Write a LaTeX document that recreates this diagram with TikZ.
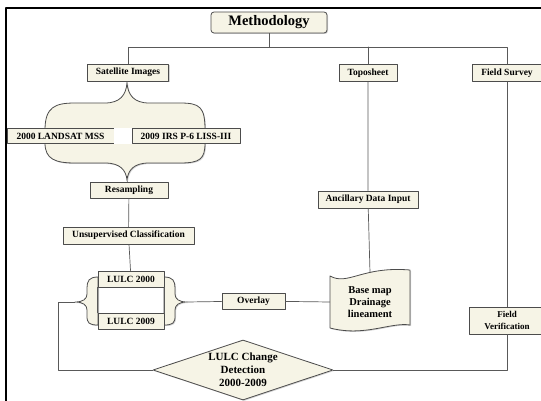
\documentclass[tikz,border=0pt]{standalone}
\usepackage{fontspec}
\setmainfont{Liberation Serif}
\usetikzlibrary{shapes.geometric,shadows}
\definecolor{cream}{RGB}{246,244,230}
\begin{document}
\begin{tikzpicture}[x=1pt,y=-1pt,line cap=round,line join=round,
    box/.style={draw=black!70,fill=cream,line width=0.8pt,inner sep=0pt,align=center,
      font=\bfseries\fontsize{9.5}{11}\selectfont,
      drop shadow={opacity=0.35,shadow xshift=1pt,shadow yshift=-1pt}},
    shade/.style={draw=black!70,fill=cream,line width=0.8pt,
      drop shadow={opacity=0.35,shadow xshift=1pt,shadow yshift=-1pt}},
    link/.style={draw=black!65,line width=0.7pt}]
\useasboundingbox (0,0) rectangle (541,401);
\draw[line width=1.3pt] (6,401) -- (6,8) -- (541,8);
% big brace round the two sensors
\path (127,83)coordinate(tipA) (127,180)coordinate(tipB);
\filldraw[shade] (45,130) .. controls (45,107) and (55,103) .. (75,103) -- (105,103)
  .. controls (120,103) and (126,95) .. (tipA) .. controls (128,95) and (134,103) .. (149,103)
  -- (180,103) .. controls (200,103) and (205,107) .. (205,130) -- (205,143)
  .. controls (205,159) and (200,163) .. (180,163) -- (149,163)
  .. controls (134,163) and (128,170) .. (tipB) .. controls (126,170) and (120,163) .. (105,163)
  -- (75,163) .. controls (55,163) and (45,159) .. (45,143) -- cycle;
% braces round the two LULC maps
\path (75,302)coordinate(lbr) (187,302)coordinate(rbr);
\filldraw[shade] (98,277) .. controls (89,277) and (87,281) .. (87,288) -- (87,294)
  .. controls (87,299) and (83,302) .. (lbr) .. controls (83,302) and (87,305) .. (87,310)
  -- (87,316) .. controls (87,323) and (89,325) .. (98,325) -- cycle;
\filldraw[shade] (164,277) .. controls (173,277) and (175,281) .. (175,288) -- (175,294)
  .. controls (175,299) and (179,302) .. (rbr) .. controls (179,302) and (175,305) .. (175,310)
  -- (175,316) .. controls (175,323) and (173,325) .. (164,325) -- cycle;
% document shape
\filldraw[shade] (330,276) .. controls (348,286) and (362,266) .. (410,270) -- (410,325)
  .. controls (390,322) and (365,337) .. (330,328) -- cycle;
\node[box,rounded corners=3pt,minimum width=116pt,minimum height=21pt,
  font=\bfseries\fontsize{14.5}{16}\selectfont] (meth) at (269,22.5) {Methodology};
\node[box,minimum width=81pt,minimum height=17pt] (sat) at (128,72.5) {Satellite Images};
\node[box,minimum width=58pt,minimum height=17pt] (topo) at (368,73) {Toposheet};
\node[box,minimum width=69pt,minimum height=17pt] (field) at (507,73) {Field Survey};
\node[box,minimum width=107pt,minimum height=15pt] (mss) at (60.5,136) {2000 LANDSAT MSS};
\node[box,minimum width=108pt,minimum height=15pt] (liss) at (186,136) {2009 IRS P-6 LISS-III};
\fill[white] (mss.north east) rectangle (liss.south west);
\node[box,minimum width=78pt,minimum height=16pt] (resamp) at (129,190) {Resampling};
\node[box,minimum width=131pt,minimum height=17pt] (unsup) at (128.5,235.5) {Unsupervised Classification};
\node[box,minimum width=66pt,minimum height=16pt] (lulcA) at (131,279) {LULC 2000};
\node[box,minimum width=66pt,minimum height=16pt] (lulcB) at (131,321) {LULC 2009};
\node[box,minimum width=63pt,minimum height=16pt] (overlay) at (253.5,301) {Overlay};
\node[box,minimum width=100pt,minimum height=17pt] (anc) at (368,199.5) {Ancillary Data Input};
\node[align=center,inner sep=0pt,minimum width=80pt,minimum height=58pt,
  font=\bfseries\fontsize{10.5}{11.7}\selectfont] (doc) at (370,302) {Base map\\Drainage\\lineament};
\node[box,minimum width=76pt,minimum height=27pt,
  font=\bfseries\fontsize{9}{12.5}\selectfont] (fver) at (507,320.5) {Field\\Verification};
\node[box,diamond,aspect=3,minimum width=180pt,minimum height=60pt,
  font=\bfseries\fontsize{11}{13}\selectfont] (det) at (243,370) {LULC Change\\Detection\\2000-2009};
% connectors
\path (128,47)coordinate(barL) (507,47)coordinate(barR) (269,47)coordinate(barM);
\draw[link] (meth) -- (barM);
\draw[link] (sat) -- (barL) -- (barR) -- (field);
\draw[link] (topo) -- (anc) -- (doc.north);
\draw[link] (sat) -- (tipA);
\draw[link] (tipB) -- (resamp) -- (unsup) -- (lulcA);
\draw[link] (lulcA.south west) -- (lulcB.north west) (lulcA.south east) -- (lulcB.north east);
\draw[link] (rbr) -- (overlay) -- (doc.west);
\draw[link] (lbr) -- ++(-17,0) |- (det);
\draw[link] (det) -| (fver);
\draw[link] (field) -- (fver);
\draw[link] (topo |- barL) -- (topo);
\end{tikzpicture}
\end{document}
